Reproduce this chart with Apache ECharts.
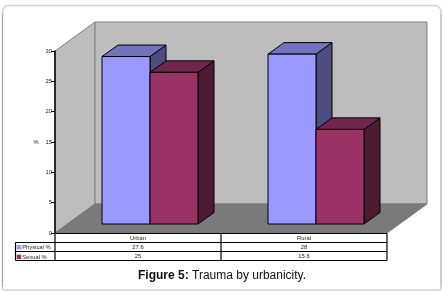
<!DOCTYPE html>
<html><head><meta charset="utf-8">
<style>html,body{margin:0;padding:0;background:#fff}#c{width:444px;height:291px}</style>
<script src="https://cdn.jsdelivr.net/npm/echarts@6/dist/echarts.min.js"></script>
</head><body><div id="c"></div>
<script>
const categories = ['Urban', 'Rural'];
const physical = [27.6, 28];
const sexual = [25, 15.6];
const seriesNames = ['Physical %', 'Sexual %'];
const yTicks = [0, 5, 10, 15, 20, 25, 30];

const G = {l: 55, r: 387, t: 51, b: 233};
const WALL = {dx: 40, dy: 29};
const BAR = {dx: 16, dy: 11.5, shiftX: 12, shiftY: 9, w: 48};
const FONT = '"Liberation Sans", Arial, sans-serif';
const TS = 5.8;

function bar(colors, idx) {
  return function (params, api) {
    const cat = api.value(0), val = api.value(1);
    const top = api.coord([cat, val]), base = api.coord([cat, 0]);
    const x0 = top[0] + BAR.shiftX + (idx - 1) * BAR.w;
    const x1 = x0 + BAR.w;
    const yT = top[1] - BAR.shiftY, yB = base[1] - BAR.shiftY;
    const ln = {stroke: '#000', lineWidth: 1};
    const poly = (pts, fill) => ({type: 'polygon', shape: {points: pts}, style: Object.assign({fill}, ln)});
    return {type: 'group', children: [
      poly([[x1, yT], [x1 + BAR.dx, yT - BAR.dy], [x1 + BAR.dx, yB - BAR.dy], [x1, yB]], colors[2]),
      poly([[x0, yT], [x0 + BAR.dx, yT - BAR.dy], [x1 + BAR.dx, yT - BAR.dy], [x1, yT]], colors[1]),
      poly([[x0, yT], [x1, yT], [x1, yB], [x0, yB]], colors[0])
    ]};
  };
}

const wallStyle = {fill: '#bdbdbd', stroke: '#808080', lineWidth: 1};
const txt = (text, x, y, align) => ({type: 'text', z: 5, x, y, style: {
  text, font: TS + 'px ' + FONT, fill: '#222', align: align || 'center', verticalAlign: 'middle'}});
const ln = (x1, y1, x2, y2) => ({type: 'line', z: 5, shape: {x1, y1, x2, y2}, style: {stroke: '#000', lineWidth: 1.2}});

const rowY = [233.5, 242.5, 251.5, 260.5];
const mid = (G.l + G.r) / 2;
const wallTop = 22;
const graphicEls = [
  {type: 'rect', z: 0, shape: {x: 2.5, y: 5.5, width: 438.5, height: 284.5, r: [6, 6, 2, 2]},
    style: {fill: '#fff', stroke: '#d2d2d2', lineWidth: 1.5}},
  {type: 'line', z: 0, shape: {x1: 2.5, y1: 14, x2: 2.5, y2: 287}, style: {stroke: '#a6a6a6', lineWidth: 1}},
  {type: 'line', z: 0, shape: {x1: 441, y1: 14, x2: 441, y2: 287}, style: {stroke: '#b8b8b8', lineWidth: 1}},
  {type: 'polygon', z: 1, shape: {points: [[G.l, G.t], [G.l + WALL.dx, wallTop], [G.l + WALL.dx, G.b - WALL.dy], [G.l, G.b]]}, style: wallStyle},
  {type: 'rect', z: 1, shape: {x: G.l + WALL.dx, y: wallTop, width: G.r - G.l, height: G.b - WALL.dy - wallTop}, style: wallStyle},
  {type: 'polygon', z: 1, shape: {points: [[G.l, G.b], [G.l + WALL.dx, G.b - WALL.dy], [G.r + WALL.dx, G.b - WALL.dy], [G.r, G.b]]},
    style: {fill: '#7a7a7a', stroke: '#7a7a7a', lineWidth: 1}},
  {type: 'rect', z: 4, shape: {x: 15.5, y: rowY[1], width: G.l - 15.5, height: rowY[3] - rowY[1]}, style: {fill: '#fff'}},
  {type: 'rect', z: 4, shape: {x: G.l, y: rowY[0], width: G.r - G.l, height: rowY[3] - rowY[0]}, style: {fill: '#fff'}},
  ln(G.l, rowY[0], G.r, rowY[0]),
  ln(15.5, rowY[1], G.r, rowY[1]),
  ln(15.5, rowY[2], G.r, rowY[2]),
  ln(15.5, rowY[3], G.r, rowY[3]),
  ln(15.5, rowY[1], 15.5, rowY[3]),
  ln(G.l, rowY[0], G.l, rowY[3]),
  ln(mid, rowY[0], mid, rowY[3]),
  ln(G.r, rowY[0], G.r, rowY[3]),
  txt(String(physical[0]), (G.l + mid) / 2, 247),
  txt(String(physical[1]), (G.r + mid) / 2, 247),
  txt(String(sexual[0]), (G.l + mid) / 2, 256),
  txt(String(sexual[1]), (G.r + mid) / 2, 256),
  txt('%', 36, 142),
  {type: 'text', z: 5, x: 138, y: 275.5, style: {
    rich: {b: {font: 'bold 12px ' + FONT, fill: '#111'}, n: {font: '12px ' + FONT, fill: '#111'}},
    text: '{b|Figure 5:} {n|Trauma by urbanicity.}', verticalAlign: 'middle'}}
];

const chart = echarts.init(document.getElementById('c'), null, {renderer: 'canvas'});
chart.setOption({
  animation: false,
  backgroundColor: '#fff',
  graphic: {elements: graphicEls},
  grid: {left: G.l, right: 444 - G.r, top: G.t, bottom: 291 - G.b, containLabel: false},
  legend: {
    orient: 'vertical', left: 16.7, top: 244.3, itemWidth: 4.5, itemHeight: 4.5, itemGap: 3.6, padding: 0, z: 6,
    itemStyle: {borderWidth: 0},
    textStyle: {fontSize: TS, fontFamily: FONT, color: '#222', padding: [0, 0, 0, -4]},
    data: seriesNames.map(name => ({name, icon: 'rect'}))
  },
  xAxis: {
    type: 'category', data: categories, z: 6,
    axisLine: {show: false}, axisTick: {show: false},
    axisLabel: {fontSize: TS, fontFamily: FONT, color: '#222', margin: 2}
  },
  yAxis: {
    type: 'value', min: 0, max: 30, interval: 5, z: 6,
    axisLine: {show: true, lineStyle: {color: '#000', width: 1.5}},
    axisTick: {show: true, length: 4, lineStyle: {color: '#000', width: 1}},
    axisLabel: {fontSize: TS, fontFamily: FONT, color: '#222', margin: 3,
      formatter: v => yTicks.includes(v) ? String(v) : ''},
    splitLine: {show: false}
  },
  series: [
    {name: seriesNames[0], type: 'custom', clip: false, z: 2, itemStyle: {color: '#9999ff', borderWidth: 0},
      encode: {x: 0, y: 1}, data: categories.map((c, i) => [i, physical[i]]),
      renderItem: bar(['#9999ff', '#7272bf', '#4d4d80'], 0)},
    {name: seriesNames[1], type: 'custom', clip: false, z: 3, itemStyle: {color: '#993366', borderWidth: 0},
      encode: {x: 0, y: 1}, data: categories.map((c, i) => [i, sexual[i]]),
      renderItem: bar(['#993366', '#73264d', '#4d1a33'], 1)}
  ]
});
</script></body></html>
